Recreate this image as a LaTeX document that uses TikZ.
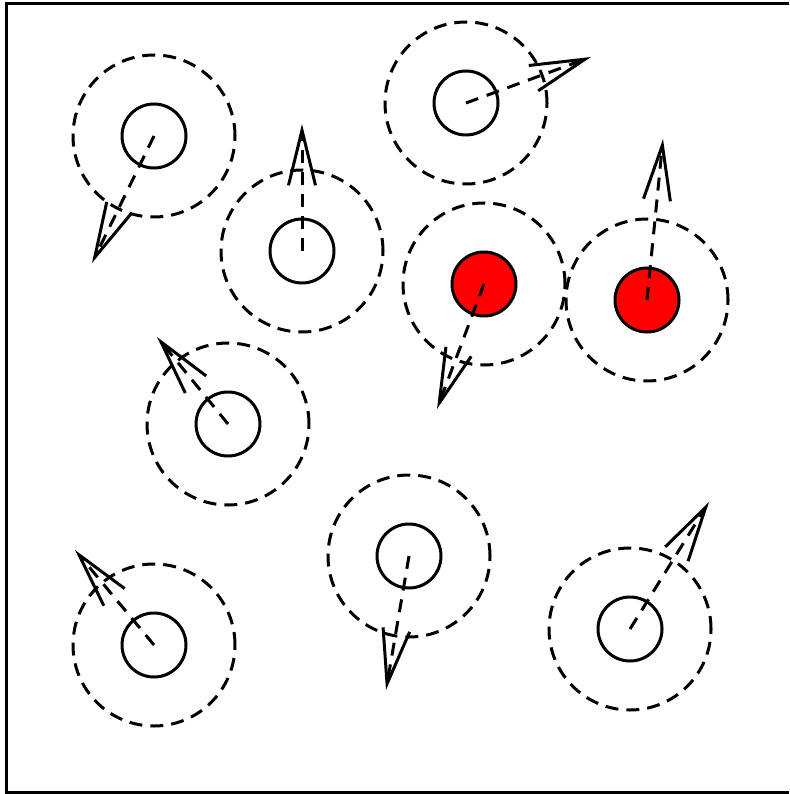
\documentclass[tikz,border=0pt]{standalone}
\usetikzlibrary{arrows.meta}
\tikzset{
  agent/.style={circle,draw,line width=3pt,minimum size=64pt,inner sep=0pt},
  stopped/.style={agent,fill=red},
  zone/.style={circle,draw,line width=3pt,dash pattern=on 13pt off 8pt,minimum size=162pt,inner sep=0pt},
  heading/.style={line width=3pt,dash pattern=on 13pt off 9pt,-{Straight Barb[length=55pt,width=27pt]}}
}
\begin{document}
\begin{tikzpicture}[x=1pt,y=-1pt]
        \useasboundingbox (0,0) rectangle (789,794);
        \draw[line width=3pt] (789,4) -- (6,4) -- (6,792) -- (789,792);
        % agents and their zones
        \node[zone] (z1) at (154,136) {};
        \node[zone] (z2) at (302,251) {};
        \node[zone] (z3) at (466,103) {};
        \node[zone] (z4) at (484,284) {};
        \node[zone] (z5) at (647,300) {};
        \node[zone] (z6) at (228,424) {};
        \node[zone] (z7) at (409,556) {};
        \node[zone] (z8) at (154,645) {};
        \node[zone] (z9) at (630,629) {};
        \node[agent] (a1) at (z1) {};
        \node[agent] (a2) at (z2) {};
        \node[agent] (a3) at (z3) {};
        \node[stopped] (a4) at (z4) {};
        \node[stopped] (a5) at (z5) {};
        \node[agent] (a6) at (z6) {};
        \node[agent] (a7) at (z7) {};
        \node[agent] (a8) at (z8) {};
        \node[agent] (a9) at (z9) {};
        % headings
        \coordinate (t1) at (92,263);
        \coordinate (t2) at (302,124);
        \coordinate (t3) at (591,57);
        \coordinate (t4) at (437,409);
        \coordinate (t5) at (663,139);
        \coordinate (t6) at (157,337);
        \coordinate (t7) at (386,690);
        \coordinate (t8) at (75,550);
        \coordinate (t9) at (709,502);
        \foreach \i in {1,...,9}
            \draw[heading] (a\i.center) -- (t\i);
    \end{tikzpicture}
\end{document}
